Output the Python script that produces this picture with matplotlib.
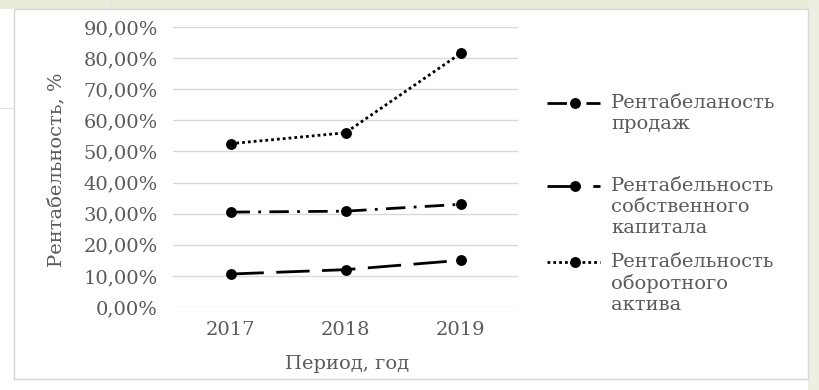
import matplotlib
matplotlib.use("Agg")
import matplotlib.pyplot as plt
from matplotlib.lines import Line2D
from matplotlib.patches import Rectangle
from matplotlib.ticker import FuncFormatter

# Data
years = ["2017", "2018", "2019"]
sales_profitability = [30.5, 30.8, 33.0]        # Рентабельность продаж, %
equity_profitability = [10.6, 12.0, 15.0]       # Рентабельность собственного капитала, %
current_assets_profitability = [52.5, 56.0, 81.5]  # Рентабельность оборотного актива, %
y_ticks = [0, 10, 20, 30, 40, 50, 60, 70, 80, 90]

legend_labels = [
    "Рентабеланость\nпродаж",
    "Рентабельность\nсобственного\nкапитала",
    "Рентабельность\nоборотного\nактива",
]

W, H = 819, 390
TEXT = "#5a5a5a"
FONT = "DejaVu Serif"
FS = 14

plt.rcParams["font.family"] = [FONT, "Liberation Serif"]

fig = plt.figure(figsize=(W / 100, H / 100), dpi=100)
fig.patch.set_facecolor("white")


def fx(px):
    return px / W


def fy(py):
    return 1 - py / H


# page background strips and the chart frame
fig.add_artist(Rectangle((0, fy(9)), 1, 9 / H, transform=fig.transFigure,
                         facecolor="#e9ecd8", edgecolor="none", zorder=-3))
fig.add_artist(Rectangle((fx(808), 0), 11 / W, 1, transform=fig.transFigure,
                         facecolor="#edf0e1", edgecolor="none", zorder=-3))
fig.add_artist(Rectangle((fx(14), fy(379)), (808 - 14) / W, (379 - 9) / H,
                         transform=fig.transFigure, facecolor="white",
                         edgecolor="#d6d6d6", linewidth=1.0, zorder=-2))
fig.add_artist(Line2D([fx(110), fx(110)], [1, fy(9)], transform=fig.transFigure,
                      color="#e0e0e0", lw=0.8, zorder=-1))
fig.add_artist(Line2D([0, fx(14)], [fy(108), fy(108)], transform=fig.transFigure,
                      color="#e0e0e0", lw=0.8, zorder=-1))

ax = fig.add_axes([fx(173), fy(307), (518 - 173) / W, (307 - 27) / H])
ax.set_facecolor("none")

x = range(len(years))
common = dict(color="black", lw=2.0, marker="o", markersize=6.8)

ax.plot(x, sales_profitability, dashes=(7, 3, 1, 3), **common)
ax.plot(x, equity_profitability, dashes=(12, 4.5), **common)
ax.plot(x, current_assets_profitability, dashes=(1, 1.1), **common)

ax.set_xlim(-0.5, 2.5)
ax.set_ylim(0, 90)
ax.set_yticks(y_ticks)
ax.yaxis.set_major_formatter(FuncFormatter(lambda v, _: f"{v:.2f}%".replace(".", ",")))
ax.set_xticks(list(x))
ax.set_xticklabels(years)
ax.grid(axis="y", color="#d9d9d9", lw=1.0)
ax.set_axisbelow(True)
for s in ax.spines.values():
    s.set_visible(False)
ax.tick_params(axis="both", length=0, labelsize=FS, labelcolor=TEXT)
ax.tick_params(axis="y", pad=11)
ax.tick_params(axis="x", pad=10)

ax.set_xlabel("Период, год", fontsize=FS, color=TEXT, va="center")
ax.xaxis.set_label_coords(0.504, -0.205)
ax.set_ylabel("Рентабельность, %", fontsize=FS, color=TEXT, va="center")
ax.yaxis.set_label_coords(-0.339, 0.489)

# legend drawn beside the plot, handle aligned with the first text line
legend_styles = [
    dict(dashes=(7, 3, 1, 3)),
    dict(dashes=(12, 4.5)),
    dict(dashes=(1, 1.1)),
]
legend_rows = [103, 186, 262]
for label, style, row in zip(legend_labels, legend_styles, legend_rows):
    fig.add_artist(Line2D([fx(547), fx(575), fx(600)], [fy(row)] * 3,
                          transform=fig.transFigure, markevery=[1],
                          **common, **style))
    fig.text(fx(611), fy(row - 9), label, fontsize=FS, color=TEXT, ha="left",
             va="top", linespacing=1.22,
             transform=fig.transFigure)

fig.savefig("out.png", dpi=100, facecolor=fig.get_facecolor())
